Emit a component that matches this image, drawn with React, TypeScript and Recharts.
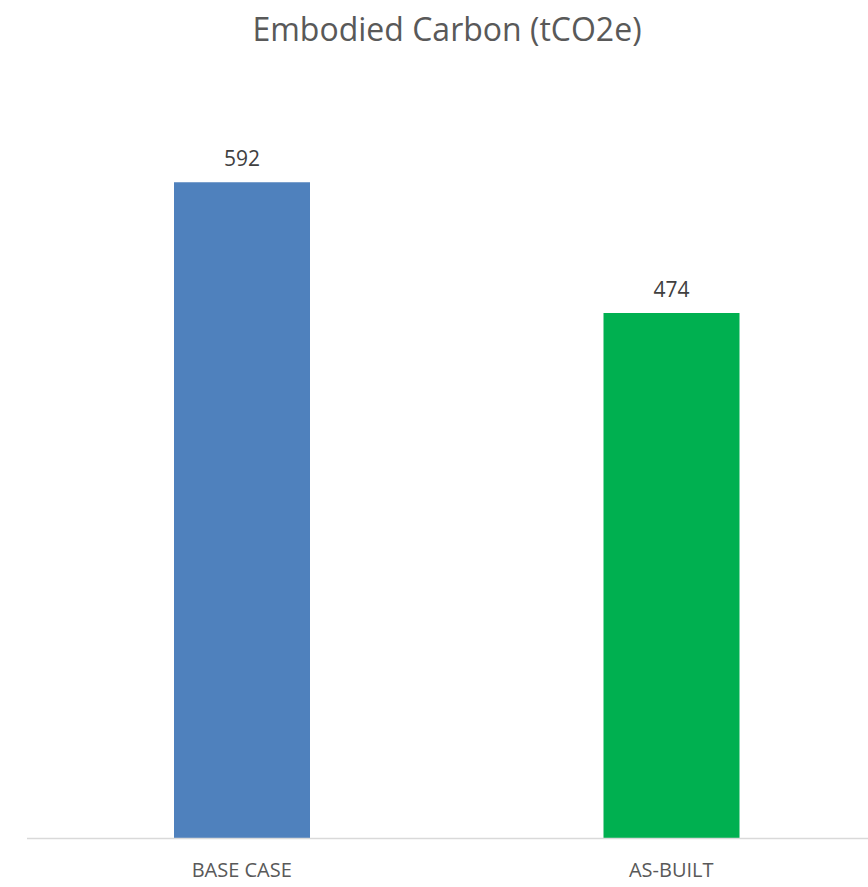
import React from "react";
import { BarChart, Bar, XAxis, YAxis, LabelList, Cell } from "recharts";

// Embodied carbon per scenario, in tonnes of CO2 equivalent
const scenarios = ["BASE CASE", "AS-BUILT"];
const carbonValues = [592, 474];
const barColors = ["#4f81bd", "#00b050"];

const chartData = scenarios.map((name, i) => ({ name, value: carbonValues[i] }));

const FONT = "'Open Sans', 'Noto Sans', sans-serif";

export default function App() {
  return (
    <>
      <style>{"html, body { margin: 0; padding: 0; overflow: hidden; }"}</style>
      <div style={{ position: "relative", width: 868, height: 887, overflow: "hidden", fontFamily: FONT }}>
        <div
          style={{
            position: "absolute",
            top: 8,
            left: 0,
            width: 894,
            textAlign: "center",
            fontSize: 32,
            color: "#595959",
            lineHeight: "42px",
          }}
        >
          Embodied Carbon (tCO2e)
        </div>
        <BarChart
          width={900}
          height={887}
          data={chartData}
          margin={{ top: 62.5, right: 14, left: 27, bottom: 18.5 }}
        >
          <XAxis
            dataKey="name"
            axisLine={{ stroke: "#d9d9d9", strokeWidth: 1.5 }}
            tickLine={false}
            height={30}
            tick={{ fill: "#595959", fontSize: 20, fontFamily: FONT }}
            tickMargin={18}
          />
          <YAxis hide domain={[0, 700]} />
          <Bar dataKey="value" barSize={136} isAnimationActive={false}>
            {chartData.map((d, i) => (
              <Cell key={d.name} fill={barColors[i]} />
            ))}
            <LabelList
              dataKey="value"
              position="top"
              offset={16}
              fill="#404040"
              fontSize={21}
              fontFamily={FONT}
            />
          </Bar>
        </BarChart>
      </div>
    </>
  );
}
